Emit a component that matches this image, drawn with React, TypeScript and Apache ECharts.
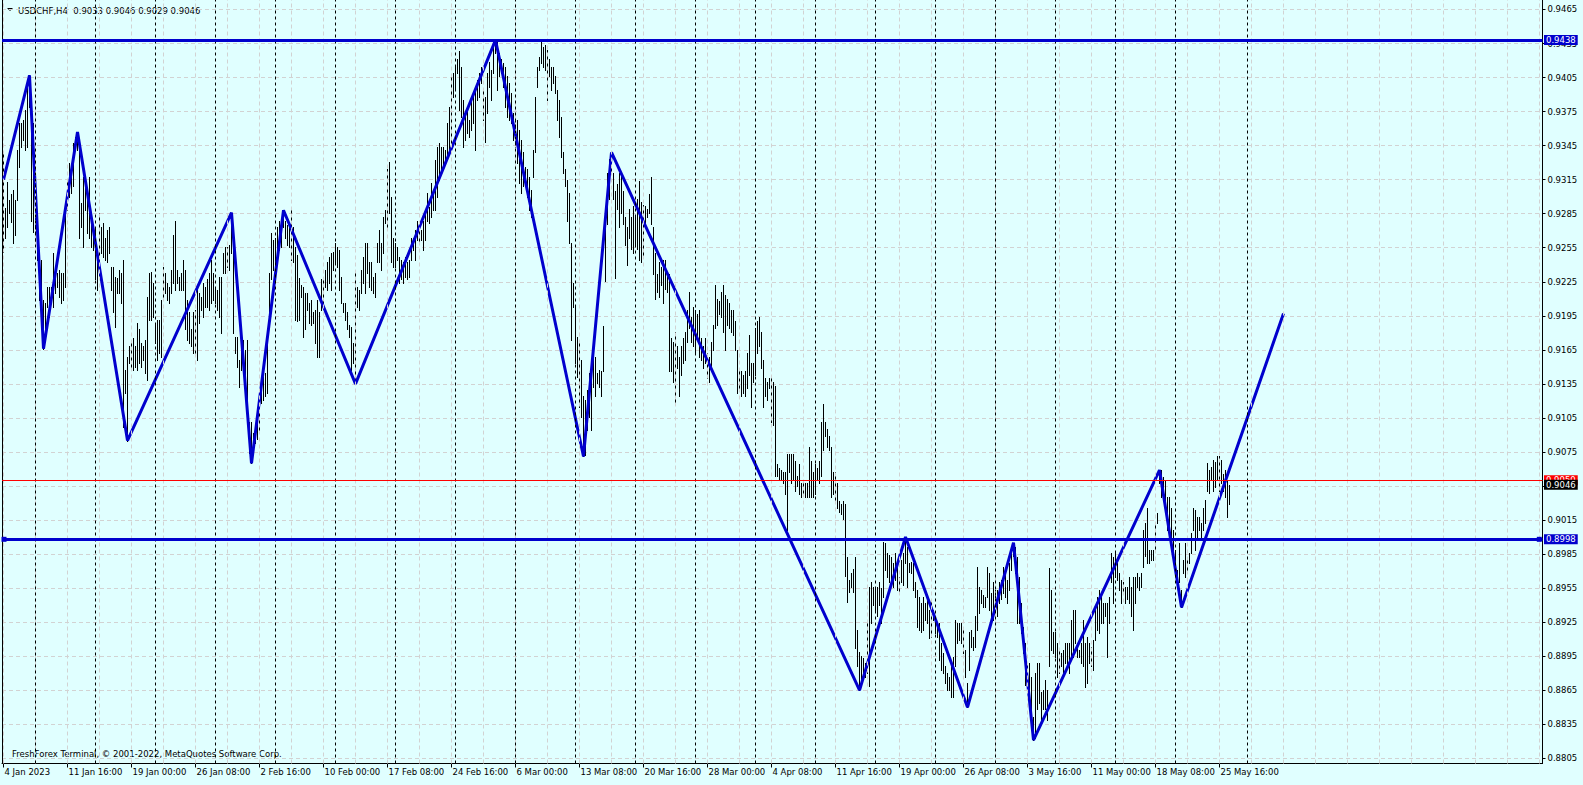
import React, { useEffect, useRef } from 'react';
import * as echarts from 'echarts';

const chartTitle = 'USDCHF,H4  0.9033 0.9046 0.9029 0.9046';
const footerText = 'FreshForex Terminal, \u00a9 2001-2022, MetaQuotes Software Corp.';

// H4 bars, index 0 = 4 Jan 2023
const highs = [
  0.9339, 0.9290, 0.9313, 0.9297, 0.9302, 0.9306, 0.9297, 0.9341, 0.9365, 0.9365,
  0.9368, 0.9376, 0.9400, 0.9407, 0.9385, 0.9365, 0.9312, 0.9279, 0.9250, 0.9244,
  0.9209, 0.9206, 0.9220, 0.9220, 0.9220, 0.9250, 0.9235, 0.9233, 0.9235, 0.9233,
  0.9233, 0.9286, 0.9316, 0.9330, 0.9324, 0.9347, 0.9353, 0.9357, 0.9350, 0.9294,
  0.9317, 0.9309, 0.9306, 0.9317, 0.9286, 0.9273, 0.9273, 0.9250, 0.9286, 0.9273,
  0.9277, 0.9264, 0.9271, 0.9273, 0.9238, 0.9238, 0.9229, 0.9228, 0.9235, 0.9233,
  0.9244, 0.9147, 0.9159, 0.9168, 0.9174, 0.9175, 0.9168, 0.9189, 0.9183, 0.9171,
  0.9168, 0.9174, 0.9212, 0.9233, 0.9234, 0.9224, 0.9189, 0.9191, 0.9191, 0.9209,
  0.9238, 0.9233, 0.9224, 0.9220, 0.9235, 0.9266, 0.9279, 0.9235, 0.9229, 0.9233,
  0.9244, 0.9235, 0.9209, 0.9198, 0.9183, 0.9198, 0.9200, 0.9220, 0.9215, 0.9212,
  0.9224, 0.9220, 0.9227, 0.9233, 0.9244, 0.9233, 0.9220, 0.9218, 0.9229, 0.9229,
  0.9250, 0.9256, 0.9256, 0.9257, 0.9286, 0.9268, 0.9176, 0.9176, 0.9156, 0.9180,
  0.9174, 0.9165, 0.9174, 0.9101, 0.9101, 0.9092, 0.9097, 0.9106, 0.9121, 0.9130,
  0.9141, 0.9145, 0.9180, 0.9233, 0.9268, 0.9262, 0.9264, 0.9273, 0.9279, 0.9271,
  0.9288, 0.9279, 0.9275, 0.9273, 0.9288, 0.9273, 0.9256, 0.9249, 0.9228, 0.9222,
  0.9220, 0.9215, 0.9215, 0.9206, 0.9209, 0.9198, 0.9200, 0.9209, 0.9198, 0.9227,
  0.9229, 0.9235, 0.9242, 0.9247, 0.9250, 0.9251, 0.9259, 0.9256, 0.9253, 0.9229,
  0.9206, 0.9206, 0.9198, 0.9187, 0.9185, 0.9171, 0.9233, 0.9220, 0.9218, 0.9235,
  0.9247, 0.9259, 0.9259, 0.9242, 0.9242, 0.9229, 0.9233, 0.9259, 0.9271, 0.9259,
  0.9282, 0.9288, 0.9324, 0.9331, 0.9300, 0.9264, 0.9259, 0.9256, 0.9247, 0.9244,
  0.9242, 0.9247, 0.9242, 0.9244, 0.9264, 0.9264, 0.9271, 0.9279, 0.9273, 0.9271,
  0.9279, 0.9288, 0.9303, 0.9291, 0.9312, 0.9306, 0.9332, 0.9344, 0.9347, 0.9344,
  0.9344, 0.9341, 0.9365, 0.9379, 0.9406, 0.9409, 0.9414, 0.9421, 0.9428, 0.9414,
  0.9385, 0.9374, 0.9376, 0.9368, 0.9388, 0.9391, 0.9394, 0.9403, 0.9409, 0.9414,
  0.9394, 0.9388, 0.9409, 0.9419, 0.9412, 0.9436, 0.9438, 0.9436, 0.9427, 0.9421,
  0.9418, 0.9414, 0.9406, 0.9400, 0.9391, 0.9374, 0.9370, 0.9368, 0.9359, 0.9350,
  0.9339, 0.9326, 0.9324, 0.9317, 0.9306, 0.9341, 0.9388, 0.9414, 0.9423, 0.9436,
  0.9432, 0.9434, 0.9429, 0.9421, 0.9414, 0.9414, 0.9406, 0.9394, 0.9385, 0.9370,
  0.9339, 0.9324, 0.9315, 0.9303, 0.9259, 0.9224, 0.9203, 0.9176, 0.9174, 0.9156,
  0.9124, 0.9121, 0.9130, 0.9145, 0.9138, 0.9168, 0.9159, 0.9145, 0.9147, 0.9146,
  0.9186, 0.9273, 0.9321, 0.9333, 0.9339, 0.9321, 0.9305, 0.9311, 0.9321, 0.9321,
  0.9305, 0.9282, 0.9273, 0.9289, 0.9282, 0.9292, 0.9282, 0.9298, 0.9314, 0.9295,
  0.9293, 0.9292, 0.9289, 0.9302, 0.9317, 0.9273, 0.9250, 0.9232, 0.9242, 0.9238,
  0.9244, 0.9244, 0.9234, 0.9232, 0.9175, 0.9172, 0.9181, 0.9168, 0.9159, 0.9168,
  0.9175, 0.9181, 0.9200, 0.9216, 0.9194, 0.9203, 0.9200, 0.9197, 0.9200, 0.9175,
  0.9168, 0.9175, 0.9162, 0.9159, 0.9172, 0.9187, 0.9222, 0.9210, 0.9208, 0.9216,
  0.9222, 0.9213, 0.9210, 0.9206, 0.9200, 0.9200, 0.9190, 0.9165, 0.9146, 0.9146,
  0.9143, 0.9146, 0.9162, 0.9178, 0.9153, 0.9153, 0.9184, 0.9190, 0.9194, 0.9181,
  0.9156, 0.9140, 0.9137, 0.9140, 0.9143, 0.9137, 0.9133, 0.9064, 0.9061, 0.9059,
  0.9057, 0.9057, 0.9073, 0.9073, 0.9073, 0.9073, 0.9067, 0.9054, 0.9064, 0.9048,
  0.9048, 0.9048, 0.9048, 0.9079, 0.9067, 0.9057, 0.9064, 0.9061, 0.9067, 0.9101,
  0.9117, 0.9101, 0.9095, 0.9089, 0.9079, 0.9057, 0.9057, 0.9048, 0.9032, 0.9029,
  0.9032, 0.9029, 0.8982, 0.8962, 0.8968, 0.8972, 0.8982, 0.8918, 0.8899, 0.8895,
  0.8893, 0.8889, 0.8924, 0.8956, 0.8960, 0.8956, 0.8956, 0.8956, 0.8960, 0.8955,
  0.8996, 0.8995, 0.8986, 0.8984, 0.8982, 0.8977, 0.8986, 0.8974, 0.8965, 0.8980,
  0.8986, 0.9000, 0.8991, 0.8977, 0.8978, 0.8977, 0.8960, 0.8953, 0.8947, 0.8942,
  0.8947, 0.8942, 0.8945, 0.8936, 0.8945, 0.8936, 0.8927, 0.8924, 0.8924, 0.8907,
  0.8898, 0.8886, 0.8880, 0.8877, 0.8886, 0.8894, 0.8927, 0.8924, 0.8924, 0.8924,
  0.8918, 0.8900, 0.8871, 0.8916, 0.8918, 0.8912, 0.8930, 0.8974, 0.8956, 0.8953,
  0.8949, 0.8947, 0.8974, 0.8968, 0.8951, 0.8960, 0.8953, 0.8953, 0.8960, 0.8962,
  0.8974, 0.8968, 0.8962, 0.8977, 0.8989, 0.8995, 0.8991, 0.8982, 0.8965, 0.8942,
  0.8921, 0.8907, 0.8889, 0.8889, 0.8877, 0.8841, 0.8880, 0.8889, 0.8889, 0.8863,
  0.8865, 0.8874, 0.8865, 0.8973, 0.8953, 0.8916, 0.8916, 0.8907, 0.8900, 0.8898,
  0.8900, 0.8907, 0.8907, 0.8907, 0.8927, 0.8936, 0.8936, 0.8907, 0.8900, 0.8907,
  0.8927, 0.8907, 0.8912, 0.8907, 0.8903, 0.8909, 0.8938, 0.8947, 0.8953, 0.8947,
  0.8942, 0.8942, 0.8942, 0.8947, 0.8986, 0.8982, 0.8986, 0.8977, 0.8968, 0.8962,
  0.8960, 0.8956, 0.8956, 0.8965, 0.8956, 0.8965, 0.8965, 0.8968, 0.8965, 0.8968,
  0.9006, 0.9012, 0.9026, 0.8989, 0.8989, 0.8989, 0.9012, 0.9021, 0.9059, 0.9059,
  0.9053, 0.9050, 0.9035, 0.9035, 0.9026, 0.9006, 0.8989, 0.8971, 0.8995, 0.8953,
  0.8980, 0.8995, 0.8982, 0.8986, 0.9004, 0.9026, 0.9024, 0.9018, 0.9018, 0.9012,
  0.9026, 0.9033, 0.9065, 0.9059, 0.9062, 0.9068, 0.9066, 0.9071, 0.9071, 0.9068,
  0.9056, 0.9059, 0.9050, 0.9046,
];

const lows = [
  0.9251, 0.9264, 0.9273, 0.9286, 0.9278, 0.9259, 0.9266, 0.9297, 0.9326, 0.9344,
  0.9350, 0.9341, 0.9344, 0.9379, 0.9279, 0.9269, 0.9259, 0.9244, 0.9209, 0.9191,
  0.9166, 0.9182, 0.9203, 0.9194, 0.9206, 0.9203, 0.9215, 0.9220, 0.9212, 0.9206,
  0.9209, 0.9220, 0.9288, 0.9300, 0.9303, 0.9309, 0.9341, 0.9341, 0.9264, 0.9273,
  0.9256, 0.9288, 0.9268, 0.9264, 0.9256, 0.9253, 0.9227, 0.9218, 0.9229, 0.9250,
  0.9247, 0.9244, 0.9242, 0.9250, 0.9218, 0.9198, 0.9185, 0.9215, 0.9215, 0.9206,
  0.9097, 0.9127, 0.9085, 0.9153, 0.9150, 0.9147, 0.9150, 0.9147, 0.9153, 0.9150,
  0.9156, 0.9145, 0.9138, 0.9191, 0.9191, 0.9194, 0.9171, 0.9156, 0.9162, 0.9159,
  0.9212, 0.9215, 0.9209, 0.9206, 0.9215, 0.9224, 0.9218, 0.9224, 0.9218, 0.9218,
  0.9218, 0.9183, 0.9174, 0.9171, 0.9168, 0.9162, 0.9162, 0.9156, 0.9189, 0.9200,
  0.9194, 0.9203, 0.9203, 0.9200, 0.9206, 0.9209, 0.9206, 0.9200, 0.9194, 0.9180,
  0.9233, 0.9233, 0.9238, 0.9235, 0.9250, 0.9180, 0.9162, 0.9150, 0.9132, 0.9147,
  0.9162, 0.9132, 0.9101, 0.9074, 0.9065, 0.9077, 0.9083, 0.9086, 0.9094, 0.9118,
  0.9121, 0.9124, 0.9127, 0.9189, 0.9227, 0.9235, 0.9242, 0.9244, 0.9253, 0.9256,
  0.9273, 0.9264, 0.9257, 0.9256, 0.9244, 0.9242, 0.9191, 0.9190, 0.9191, 0.9212,
  0.9176, 0.9183, 0.9200, 0.9189, 0.9187, 0.9189, 0.9171, 0.9159, 0.9159, 0.9200,
  0.9206, 0.9220, 0.9218, 0.9224, 0.9218, 0.9235, 0.9242, 0.9238, 0.9218, 0.9206,
  0.9198, 0.9191, 0.9183, 0.9176, 0.9147, 0.9153, 0.9135, 0.9203, 0.9200, 0.9215,
  0.9224, 0.9215, 0.9233, 0.9220, 0.9218, 0.9215, 0.9212, 0.9242, 0.9242, 0.9235,
  0.9250, 0.9277, 0.9271, 0.9286, 0.9242, 0.9238, 0.9238, 0.9244, 0.9224, 0.9227,
  0.9224, 0.9229, 0.9227, 0.9229, 0.9244, 0.9253, 0.9244, 0.9262, 0.9259, 0.9262,
  0.9253, 0.9262, 0.9279, 0.9277, 0.9282, 0.9288, 0.9288, 0.9300, 0.9315, 0.9321,
  0.9324, 0.9330, 0.9332, 0.9341, 0.9347, 0.9388, 0.9394, 0.9409, 0.9376, 0.9370,
  0.9344, 0.9350, 0.9356, 0.9353, 0.9359, 0.9365, 0.9341, 0.9385, 0.9388, 0.9400,
  0.9368, 0.9348, 0.9374, 0.9397, 0.9385, 0.9409, 0.9427, 0.9394, 0.9406, 0.9409,
  0.9397, 0.9379, 0.9370, 0.9368, 0.9365, 0.9350, 0.9344, 0.9330, 0.9312, 0.9303,
  0.9309, 0.9309, 0.9300, 0.9288, 0.9282, 0.9317, 0.9339, 0.9397, 0.9412, 0.9418,
  0.9414, 0.9412, 0.9385, 0.9406, 0.9394, 0.9400, 0.9391, 0.9368, 0.9353, 0.9335,
  0.9321, 0.9309, 0.9279, 0.9259, 0.9174, 0.9203, 0.9153, 0.9141, 0.9115, 0.9106,
  0.9071, 0.9072, 0.9094, 0.9106, 0.9094, 0.9132, 0.9124, 0.9136, 0.9132, 0.9124,
  0.9146, 0.9226, 0.9276, 0.9298, 0.9321, 0.9298, 0.9228, 0.9289, 0.9273, 0.9286,
  0.9276, 0.9257, 0.9240, 0.9264, 0.9254, 0.9250, 0.9257, 0.9254, 0.9244, 0.9242,
  0.9249, 0.9273, 0.9282, 0.9286, 0.9276, 0.9232, 0.9210, 0.9216, 0.9212, 0.9222,
  0.9206, 0.9219, 0.9216, 0.9146, 0.9146, 0.9137, 0.9117, 0.9149, 0.9124, 0.9143,
  0.9153, 0.9156, 0.9172, 0.9184, 0.9172, 0.9168, 0.9162, 0.9175, 0.9159, 0.9156,
  0.9149, 0.9153, 0.9140, 0.9137, 0.9149, 0.9165, 0.9184, 0.9187, 0.9197, 0.9194,
  0.9181, 0.9165, 0.9187, 0.9184, 0.9181, 0.9178, 0.9165, 0.9127, 0.9131, 0.9124,
  0.9127, 0.9124, 0.9131, 0.9143, 0.9115, 0.9137, 0.9143, 0.9162, 0.9168, 0.9149,
  0.9115, 0.9124, 0.9121, 0.9131, 0.9101, 0.9099, 0.9054, 0.9054, 0.9051, 0.9051,
  0.9048, 0.9038, 0.9006, 0.9057, 0.9048, 0.9051, 0.9041, 0.9045, 0.9038, 0.9035,
  0.9038, 0.9035, 0.9035, 0.9035, 0.9035, 0.9035, 0.9038, 0.9051, 0.9048, 0.9054,
  0.9077, 0.9089, 0.9079, 0.9077, 0.9035, 0.9038, 0.9032, 0.9026, 0.9022, 0.9020,
  0.9016, 0.8966, 0.8943, 0.8952, 0.8956, 0.8952, 0.8902, 0.8886, 0.8865, 0.8870,
  0.8877, 0.8877, 0.8880, 0.8869, 0.8924, 0.8940, 0.8934, 0.8930, 0.8940, 0.8924,
  0.8947, 0.8971, 0.8965, 0.8960, 0.8960, 0.8956, 0.8962, 0.8953, 0.8951, 0.8960,
  0.8958, 0.8977, 0.8956, 0.8969, 0.8968, 0.8953, 0.8947, 0.8921, 0.8918, 0.8916,
  0.8918, 0.8927, 0.8924, 0.8911, 0.8912, 0.8927, 0.8915, 0.8912, 0.8892, 0.8883,
  0.8880, 0.8871, 0.8865, 0.8865, 0.8859, 0.8859, 0.8886, 0.8907, 0.8909, 0.8907,
  0.8898, 0.8877, 0.8850, 0.8883, 0.8903, 0.8900, 0.8903, 0.8918, 0.8933, 0.8942,
  0.8938, 0.8938, 0.8947, 0.8936, 0.8924, 0.8927, 0.8942, 0.8930, 0.8942, 0.8945,
  0.8951, 0.8947, 0.8942, 0.8953, 0.8971, 0.8983, 0.8968, 0.8924, 0.8924, 0.8915,
  0.8898, 0.8870, 0.8877, 0.8854, 0.8836, 0.8821, 0.8823, 0.8848, 0.8854, 0.8839,
  0.8848, 0.8848, 0.8839, 0.8886, 0.8900, 0.8898, 0.8894, 0.8877, 0.8880, 0.8886,
  0.8880, 0.8889, 0.8886, 0.8880, 0.8894, 0.8894, 0.8907, 0.8894, 0.8894, 0.8889,
  0.8886, 0.8868, 0.8871, 0.8889, 0.8886, 0.8883, 0.8909, 0.8918, 0.8915, 0.8924,
  0.8924, 0.8930, 0.8894, 0.8924, 0.8960, 0.8942, 0.8965, 0.8962, 0.8953, 0.8942,
  0.8951, 0.8942, 0.8945, 0.8942, 0.8930, 0.8918, 0.8942, 0.8956, 0.8953, 0.8956,
  0.8974, 0.8983, 0.8977, 0.8977, 0.8980, 0.8980, 0.8989, 0.9012, 0.9048, 0.9035,
  0.9042, 0.9026, 0.9006, 0.9004, 0.8991, 0.8983, 0.8968, 0.8956, 0.8960, 0.8938,
  0.8968, 0.8965, 0.8971, 0.8977, 0.8986, 0.9006, 0.8989, 0.9000, 0.9006, 0.9000,
  0.9006, 0.9012, 0.9041, 0.9039, 0.9050, 0.9041, 0.9044, 0.9050, 0.9041, 0.9048,
  0.9041, 0.9035, 0.9018, 0.9029,
];

// ZigZag vertices (bar index, price)
const zigzagBars = [0, 13, 20, 37, 62, 114, 124, 140, 176, 246, 290, 304, 428, 451, 482, 505, 515, 578, 589, 640];
const zigzagPrices = [0.9315, 0.9407, 0.9166, 0.9357, 0.9085, 0.9286, 0.9065, 0.9288, 0.9135, 0.9438, 0.9071, 0.9339, 0.8865, 0.9000, 0.8850, 0.8995, 0.8821, 0.9059, 0.8938, 0.9197];

// Time axis labels (bar index, text)
const xLabelBars = [0, 32, 64, 96, 128, 160, 192, 224, 256, 288, 320, 352, 384, 416, 448, 480, 512, 544, 576, 608];
const xLabelTexts = ['4 Jan 2023', '11 Jan 16:00', '19 Jan 00:00', '26 Jan 08:00', '2 Feb 16:00', '10 Feb 00:00', '17 Feb 08:00', '24 Feb 16:00', '6 Mar 00:00', '13 Mar 08:00', '20 Mar 16:00', '28 Mar 00:00', '4 Apr 08:00', '11 Apr 16:00', '19 Apr 00:00', '26 Apr 08:00', '3 May 16:00', '11 May 00:00', '18 May 08:00', '25 May 16:00'];

// Weekly period separators (bar index of week start)
const weekStartBars = [16, 46, 76, 106, 136, 166, 196, 226, 256, 286, 316, 346, 376, 406, 436, 466, 496, 526, 556, 586, 622];

// Price scale tick labels
const yTickValues = [0.8805, 0.8835, 0.8865, 0.8895, 0.8925, 0.8955, 0.8985, 0.9015, 0.9045, 0.9075, 0.9105, 0.9135, 0.9165, 0.9195, 0.9225, 0.9255, 0.9285, 0.9315, 0.9345, 0.9375, 0.9405, 0.9435, 0.9465];

// Horizontal levels
const levelPrices = [0.9438, 0.8998];
const askPrice = 0.9050;
const bidPrice = 0.9046;

const BLUE = '#0000CD';
const BG = '#E0FFFF';
const FONT = 'DejaVu Sans';
const FS = 8.5;

export default function App() {
  const ref = useRef<HTMLDivElement>(null);

  useEffect(() => {
    document.body.style.margin = '0';
    if (!ref.current) return;
    const chart = echarts.init(ref.current, null, { renderer: 'svg' });

    const barData = highs.map((h, i) => [i, h, lows[i]]);
    const zigzagData = zigzagBars.map((b, i) => [b, zigzagPrices[i]]);
    const gridBars: number[] = [];
    for (let b = 0; b <= 768; b += 16) gridBars.push(b);

    const priceLabel = (bg: string) => ({
      show: true,
      position: 'end',
      distance: 1.5,
      formatter: (p: any) => Number(p.value).toFixed(4),
      backgroundColor: bg,
      color: '#FFFFFF',
      opacity: 1,
      fontFamily: FONT,
      fontSize: FS,
      lineHeight: 10,
      padding: [0, 2, 0, 2],
    });

    const option: any = {
      animation: false,
      backgroundColor: BG,
      textStyle: { fontFamily: FONT },
      grid: { left: 2, top: 0, right: 40.5, bottom: 21.5, containLabel: false, outerBoundsMode: 'none' },
      xAxis: {
        type: 'value',
        min: -0.75,
        max: 769.5,
        axisLine: { show: true, onZero: false, lineStyle: { color: '#000', width: 1 } },
        axisTick: { show: true, length: 4, customValues: xLabelBars, lineStyle: { color: '#000' } },
        axisLabel: {
          customValues: xLabelBars,
          formatter: (v: number) => {
            const k = xLabelBars.indexOf(Math.round(v));
            return k >= 0 ? xLabelTexts[k] : '';
          },
          align: 'left',
          margin: 4,
          padding: [0, 0, 0, 1],
          color: '#000',
          fontFamily: FONT,
          fontSize: FS,
        },
        splitLine: { show: false },
      },
      yAxis: [
        {
          type: 'value',
          position: 'right',
          min: 0.88004,
          max: 0.947335,
          axisLine: { show: true, onZero: false, lineStyle: { color: '#000', width: 1 } },
          axisTick: { show: true, length: 3, customValues: yTickValues, lineStyle: { color: '#000' } },
          axisLabel: {
            customValues: yTickValues,
            formatter: (v: number) => v.toFixed(4),
            margin: 5,
            color: '#000',
            fontFamily: FONT,
            fontSize: FS,
          },
          splitLine: { show: true, lineStyle: { color: '#D2D2D2', type: [4, 3], width: 1 } },
        },
        {
          type: 'value',
          position: 'left',
          min: 0.88004,
          max: 0.947335,
          axisLine: { show: true, onZero: false, lineStyle: { color: '#000', width: 1 } },
          axisTick: { show: false },
          axisLabel: { show: false },
          splitLine: { show: false },
        },
      ],
      series: [
        {
          type: 'line',
          data: [],
          z: 1,
          silent: true,
          markLine: {
            silent: true,
            precision: 4,
            symbol: ['none', 'none'],
            label: { show: false },
            data: [
              ...gridBars.map((b) => ({ xAxis: b, lineStyle: { color: '#D2D2D2', type: [4, 3], width: 1 } })),
              ...weekStartBars.map((b) => ({ xAxis: b, lineStyle: { color: '#000000', type: [3, 3], width: 1 } })),
            ],
          },
        },
        {
          type: 'custom',
          z: 2,
          silent: true,
          clip: true,
          data: barData,
          encode: { x: 0, y: [1, 2] },
          renderItem: (params: any, api: any) => {
            const i = api.value(0);
            const top = api.coord([i, api.value(1)]);
            const bot = api.coord([i, api.value(2)]);
            const x = Math.floor(top[0]) + 0.5;
            return {
              type: 'line',
              shape: { x1: x, y1: Math.round(top[1]), x2: x, y2: Math.round(bot[1]) + 1 },
              style: { stroke: '#000000', lineWidth: 1 },
            };
          },
        },
        {
          type: 'line',
          z: 3,
          silent: true,
          data: zigzagData,
          symbol: 'none',
          showSymbol: false,
          clip: true,
          lineStyle: { color: BLUE, width: 3 },
        },
        {
          type: 'line',
          data: [],
          z: 5,
          silent: true,
          clip: false,
          markLine: {
            silent: true,
            precision: 4,
            symbol: ['none', 'none'],
            data: [
              { yAxis: levelPrices[0], lineStyle: { color: BLUE, width: 3, type: 'solid' }, label: priceLabel(BLUE) },
              { yAxis: levelPrices[1], lineStyle: { color: BLUE, width: 3, type: 'solid' }, label: priceLabel(BLUE) },
              { yAxis: askPrice, lineStyle: { color: '#FF0000', width: 1, type: 'solid' }, label: priceLabel('#FF0000') },
              { yAxis: bidPrice, lineStyle: { color: 'rgba(0,0,0,0)', width: 1, type: 'solid' }, label: priceLabel('#000000') },
            ],
          },
          markPoint: {
            silent: true,
            symbol: 'rect',
            symbolSize: 5,
            itemStyle: { color: BLUE },
            label: { show: false },
            data: [
              { coord: [0.25, levelPrices[1]] },
              { coord: [767.9, levelPrices[1]] },
            ],
          },
        },
      ],
      graphic: [
        {
          type: 'polygon',
          shape: { points: [[7, 8], [13, 8], [10, 11]] },
          style: { fill: '#000' },
          silent: true,
        },
        {
          type: 'text',
          x: 18,
          y: 10.5,
          style: { text: chartTitle, fill: '#000', font: `${FS}px ${FONT}`, align: 'left', verticalAlign: 'middle' },
          silent: true,
        },
        {
          type: 'text',
          x: 12,
          y: 754,
          style: { text: footerText, fill: '#000', font: `${FS}px ${FONT}`, align: 'left', verticalAlign: 'middle' },
          silent: true,
        },
      ],
    };

    chart.setOption(option);
    return () => chart.dispose();
  }, []);

  return <div ref={ref} style={{ width: 1583, height: 785, background: BG }} />;
}
